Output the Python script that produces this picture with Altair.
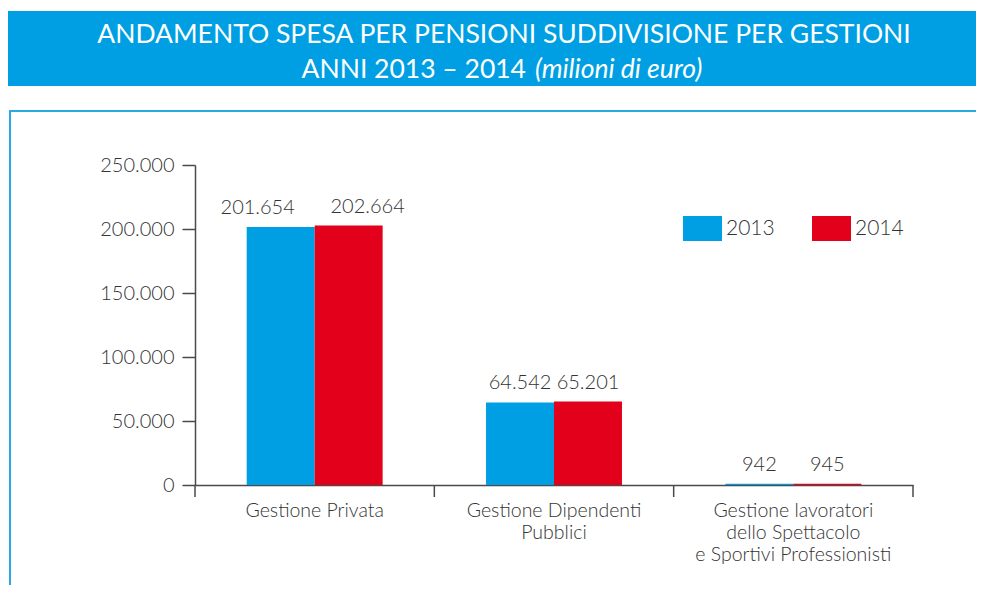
import altair as alt
import pandas as pd

categories = [
    "Gestione Privata",
    "Gestione Dipendenti\nPubblici",
    "Gestione lavoratori\ndello Spettacolo\ne Sportivi Professionisti",
]
years = ["2013", "2014"]
values_2013 = [201654, 64542, 942]
values_2014 = [202664, 65201, 945]
y_ticks = [0, 50000, 100000, 150000, 200000, 250000]
colors = ["#009FE3", "#E2001A"]
title_line1 = "ANDAMENTO SPESA PER PENSIONI SUDDIVISIONE PER GESTIONI"
title_line2a = "ANNI 2013 \u2013 2014"
title_line2b = "(milioni di euro)"

rows = []
for c, v13, v14 in zip(categories, values_2013, values_2014):
    rows.append({"cat": c, "year": years[0], "value": v13})
    rows.append({"cat": c, "year": years[1], "value": v14})
df = pd.DataFrame(rows)
one = pd.DataFrame({"k": [0]})
cats_df = pd.DataFrame({"cat": categories})

W, H = 718, 320
FONT = "Lato"
TXT = "#333333"
AX = "#4a4a4a"
P_IN = 0.432
P_OUT = P_IN / 2
STEP = W / len(categories)
EDGE_SHIFT = P_OUT * STEP  # from end of a band to the category boundary

x_scale = alt.Scale(paddingInner=P_IN, paddingOuter=P_OUT)
x_enc = alt.X(
    "cat:N",
    sort=categories,
    scale=x_scale,
    axis=alt.Axis(
        title=None, labelAngle=0, ticks=False, labelLimit=0,
        labelExpr="split(datum.label, '\\n')",
        labelFont=FONT, labelFontSize=19.5, labelFontWeight=300, labelColor=TXT,
        labelPadding=16, labelLineHeight=22, domainColor=AX, domainWidth=1.5,
    ),
)
y_enc = alt.Y(
    "value:Q",
    scale=alt.Scale(domain=[0, 250000], nice=False),
    axis=alt.Axis(
        title=None, grid=False, values=y_ticks, tickSize=13, tickColor=AX, tickWidth=1.5,
        domainColor=AX, domainWidth=1.5,
        labelExpr="replace(format(datum.value, ','), ',', '.')",
        labelFont=FONT, labelFontSize=20, labelFontWeight=300, labelColor=TXT, labelPadding=8,
    ),
)
xo = alt.XOffset("year:N", sort=years, scale=alt.Scale(paddingInner=0, paddingOuter=0))

header = alt.Chart(one).mark_rect(color="#009FE3").encode(
    x=alt.value(-189), x2=alt.value(800), y=alt.value(-154), y2=alt.value(-79)
)
box = alt.Chart(one).mark_rect(filled=False, stroke="#29ABE2", strokeWidth=2).encode(
    x=alt.value(-185), x2=alt.value(820), y=alt.value(-54), y2=alt.value(500)
)
t1 = alt.Chart(one).mark_text(font=FONT, fontSize=26.5, color="white", align="center", baseline="middle").encode(
    x=alt.value(309), y=alt.value(-130), text=alt.value(title_line1)
)
t2a = alt.Chart(one).mark_text(font=FONT, fontSize=26.5, color="white", align="right", baseline="middle").encode(
    x=alt.value(331), y=alt.value(-95), text=alt.value(title_line2a)
)
t2b = alt.Chart(one).mark_text(font=FONT, fontSize=26.5, fontStyle="italic", color="white", align="left", baseline="middle").encode(
    x=alt.value(340), y=alt.value(-95), text=alt.value(title_line2b)
)

bars = alt.Chart(df).mark_bar().encode(
    x=x_enc, xOffset=xo, y=y_enc,
    color=alt.Color(
        "year:N",
        scale=alt.Scale(domain=years, range=colors),
        legend=alt.Legend(
            orient="none", legendX=488, legendY=44, direction="horizontal", title=None,
            symbolType="M-1,-0.641L1,-0.641L1,0.641L-1,0.641Z", symbolSize=1521,
            symbolStrokeWidth=0, symbolOpacity=1, labelFont=FONT, labelFontSize=21,
            labelFontWeight=300, labelColor=TXT, labelOffset=4, columnPadding=37,
        ),
    ),
)


def label_layer(cond, dx):
    return alt.Chart(df).transform_filter(cond).transform_calculate(
        lab="replace(format(datum.value, ','), ',', '.')"
    ).mark_text(font=FONT, fontSize=20, fontWeight=300, color=TXT, baseline="alphabetic", dy=-13, dx=dx).encode(
        x=alt.X("cat:N", sort=categories), xOffset=xo, y="value:Q", text="lab:N"
    )


first = categories[0]
labels_a = label_layer(f"datum.cat != '{first}'", 0)
labels_b = label_layer(f"datum.cat == '{first}' && datum.year == '{years[0]}'", -23)
labels_c = label_layer(f"datum.cat == '{first}' && datum.year == '{years[1]}'", 19)

edge_ticks = alt.Chart(cats_df).mark_rule(color=AX, strokeWidth=1.5, xOffset=EDGE_SHIFT).encode(
    x=alt.X("cat:N", sort=categories, bandPosition=1),
    y=alt.value(H), y2=alt.value(H + 12),
)
origin_tick = alt.Chart(one).mark_rule(color=AX, strokeWidth=1.5).encode(
    x=alt.value(0), y=alt.value(H), y2=alt.value(H + 12),
)

chart = alt.layer(
    header, box, t1, t2a, t2b, bars, labels_a, labels_b, labels_c, edge_ticks, origin_tick
).properties(
    width=W, height=H,
    autosize=alt.AutoSizeParams(type="none"),
    padding={"left": 187, "top": 157, "right": 63, "bottom": 100},
).configure_view(stroke=None)

chart.save("out.html", embed_options={"renderer": "svg", "actions": False})
